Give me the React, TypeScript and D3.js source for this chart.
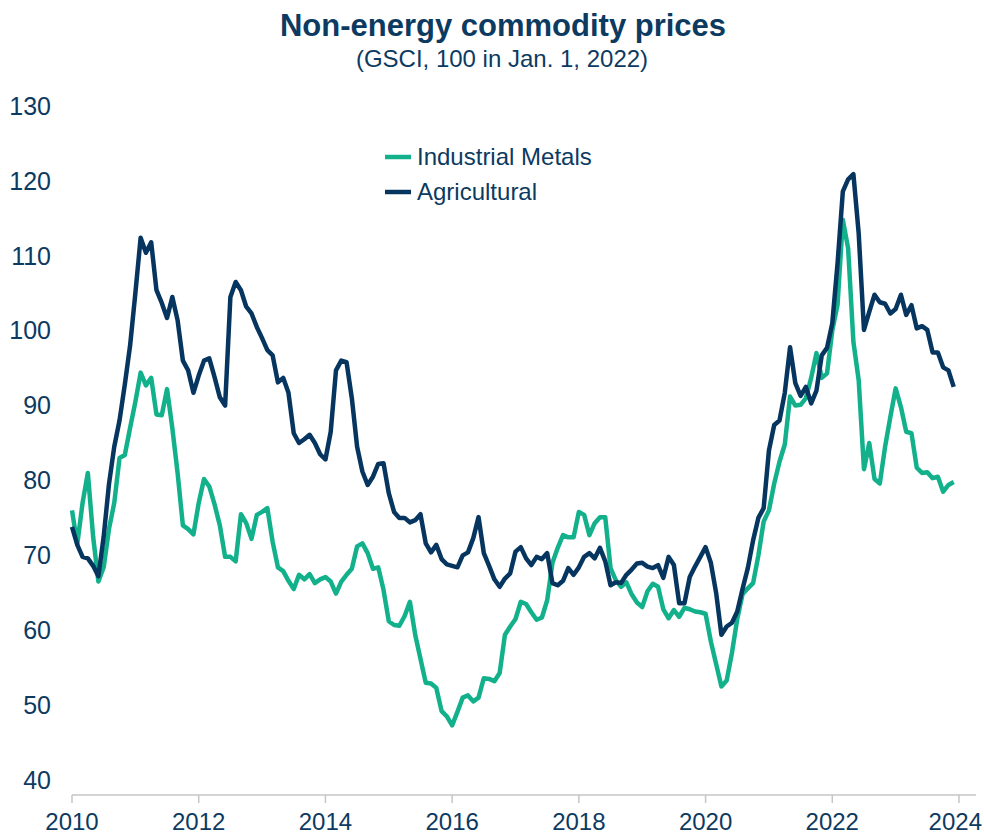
import React, { useEffect, useRef } from "react";
import * as d3 from "d3";

// monthly, Jan 2010 .. Dec 2023
const startYear = 2010;

const industrialMetals = [
  76, 71.5, 77, 81, 72.5, 66.5, 68.4, 73.5, 77, 83, 83.4, 87,
  90.5, 94.4, 92.7, 93.7, 88.8, 88.7, 92.2, 87, 81, 74, 73.5, 72.8,
  77, 80.2, 79.2, 76.8, 74, 69.8, 69.8, 69.2, 75.5, 74.3, 72.2, 75.4,
  75.8, 76.3, 71.8, 68.4, 67.9, 66.6, 65.5, 67.4, 66.8, 67.5, 66.3, 66.8,
  67.1, 66.5, 64.9, 66.5, 67.4, 68.2, 71.2, 71.6, 70.3, 68.2, 68.4, 65.4,
  61.2, 60.7, 60.6, 61.9, 63.8, 59.4, 56.2, 53, 52.9, 52.3, 49.2, 48.5,
  47.3, 49.1, 51, 51.3, 50.5, 51, 53.6, 53.5, 53.2, 54.3, 59.4, 60.5,
  61.5, 63.8, 63.5, 62.4, 61.4, 61.7, 64, 69, 71, 72.7, 72.4, 72.4,
  75.8, 75.4, 72.7, 74.3, 75.1, 75.1, 68.3, 66.7, 65.8, 66.4, 64.8, 63.7,
  63.1, 65.2, 66.2, 65.8, 62.8, 61.6, 62.7, 61.8, 63, 62.8, 62.5, 62.4,
  62.2, 58.5, 55.5, 52.5, 53.3, 57, 61.5, 64.8, 65.6, 66.3, 70, 74.5,
  76, 79.6, 82.5, 84.8, 91.2, 90, 90.1, 91, 93.7, 97, 93.7, 94.3,
  100, 103.5, 114.8, 111, 98.5, 93.4, 81.5, 85, 80.2, 79.6, 84.5, 88.5,
  92.3, 89.8, 86.5, 86.3, 81.7, 81, 81.1, 80.3, 80.5, 78.5, 79.4, 79.8,
];

const agricultural = [
  73.8, 71.4, 69.8, 69.6, 68.6, 67.2, 72.5, 79.5, 84.5, 88, 92.8, 98,
  105, 112.4, 110.4, 111.8, 105.4, 103.7, 101.7, 104.5, 101.4, 96, 94.7, 91.7,
  94, 96, 96.3, 93.8, 91.1, 90, 104.5, 106.5, 105.4, 103.2, 102.3, 100.5,
  99, 97.4, 96.7, 93.1, 93.7, 91.7, 86.3, 85, 85.5, 86.1, 85, 83.5,
  82.8, 86.5, 94.7, 96, 95.8, 91, 84.5, 81.2, 79.4, 80.5, 82.2, 82.3,
  78.3, 75.8, 75, 75, 74.4, 74.7, 75.5, 71.6, 70.4, 71.4, 69.5, 68.8,
  68.6, 68.4, 70, 70.4, 72.3, 75.1, 70.3, 68.6, 66.8, 65.8, 66.9, 67.6,
  70.5, 71.1, 69.6, 68.7, 69.8, 69.5, 70.3, 66.3, 66, 66.6, 68.3, 67.4,
  68.4, 69.8, 70.3, 69.6, 71, 69.2, 66, 66.4, 66.3, 67.4, 68.1, 68.9,
  69, 68.5, 68.3, 68.7, 67, 69.8, 68.7, 63.6, 63.6, 67.1, 68.5, 69.8,
  71.1, 69, 65, 59.4, 60.5, 61, 62.5, 65.5, 68.3, 72, 75, 76.3,
  84, 87.4, 88, 91.7, 97.8, 93, 91.3, 92.5, 90.3, 92, 96.7, 97.7,
  101, 109, 118.6, 120.2, 120.9, 113, 100.1, 102.5, 104.8, 103.8, 103.6, 102.3,
  102.9, 104.8, 102.1, 103.4, 100.3, 100.6, 100.1, 97.1, 97.1, 95.1, 94.7, 92.5,
];

const yTicks = [40, 50, 60, 70, 80, 90, 100, 110, 120, 130];
const xTicks = [2010, 2012, 2014, 2016, 2018, 2020, 2022, 2024];
const seriesNames = ["Industrial Metals", "Agricultural"];
const seriesColors = ["#13b18b", "#06365f"];

const textColor = "#0c3a60";
const font = "'Liberation Sans', Arial, sans-serif";

export default function App() {
  const ref = useRef<SVGSVGElement>(null);

  useEffect(() => {
    const svg = d3.select(ref.current);
    svg.selectAll("*").remove();

    const x = d3.scaleLinear().domain([2010, 2024]).range([72, 959]);
    const y = d3.scaleLinear().domain([38, 130]).range([795, 106]);

    // title
    svg.append("text")
      .attr("x", 503)
      .attr("y", 36)
      .attr("text-anchor", "middle")
      .style("font-family", font)
      .style("font-size", "31px")
      .style("font-weight", "bold")
      .style("fill", textColor)
      .text("Non-energy commodity prices");

    svg.append("text")
      .attr("x", 502)
      .attr("y", 67)
      .attr("text-anchor", "middle")
      .style("font-family", font)
      .style("font-size", "24px")
      .style("fill", textColor)
      .text("(GSCI, 100 in Jan. 1, 2022)");

    // y labels, no axis line
    svg.append("g")
      .selectAll("text")
      .data(yTicks)
      .enter()
      .append("text")
      .attr("x", 51)
      .attr("y", (d) => y(d))
      .attr("dy", "0.35em")
      .attr("text-anchor", "end")
      .style("font-family", font)
      .style("font-size", "25px")
      .style("fill", textColor)
      .text((d) => d);

    // x axis
    const xAxis = svg.append("g");
    xAxis.append("line")
      .attr("x1", x(2010))
      .attr("x2", 976)
      .attr("y1", y(38))
      .attr("y2", y(38))
      .attr("stroke", "#c6c6c6")
      .attr("stroke-width", 1.5);

    xAxis.selectAll(".tick")
      .data(xTicks)
      .enter()
      .append("line")
      .attr("x1", (d) => x(d))
      .attr("x2", (d) => x(d))
      .attr("y1", y(38))
      .attr("y2", y(38) + 8)
      .attr("stroke", "#c6c6c6")
      .attr("stroke-width", 1.5);

    // last label would run off the right edge, so pin it there
    const last = xTicks[xTicks.length - 1];
    xAxis.selectAll(".lbl")
      .data(xTicks)
      .enter()
      .append("text")
      .attr("x", (d) => (d === last ? 982 : x(d)))
      .attr("y", 830)
      .attr("text-anchor", (d) => (d === last ? "end" : "middle"))
      .style("font-family", font)
      .style("font-size", "24px")
      .style("fill", textColor)
      .text((d) => d);

    // lines
    const line = d3.line<number>()
      .x((d, i) => x(startYear + i / 12))
      .y((d) => y(d));

    [industrialMetals, agricultural].forEach((s, k) => {
      svg.append("path")
        .datum(s)
        .attr("d", line)
        .attr("fill", "none")
        .attr("stroke", seriesColors[k])
        .attr("stroke-width", 4.5)
        .attr("stroke-linejoin", "round");
    });

    // legend
    const legend = svg.append("g");
    seriesNames.forEach((name, k) => {
      const ly = 157 + k * 35;
      legend.append("line")
        .attr("x1", 385)
        .attr("x2", 411)
        .attr("y1", ly)
        .attr("y2", ly)
        .attr("stroke", seriesColors[k])
        .attr("stroke-width", 4.5);
      legend.append("text")
        .attr("x", 417)
        .attr("y", ly)
        .attr("dy", "0.35em")
        .style("font-family", font)
        .style("font-size", "24px")
        .style("fill", textColor)
        .text(name);
    });
  }, []);

  return (
    <svg
      ref={ref}
      width={984}
      height={835}
      style={{ position: "absolute", left: 0, top: 0, background: "#fff" }}
    />
  );
}
